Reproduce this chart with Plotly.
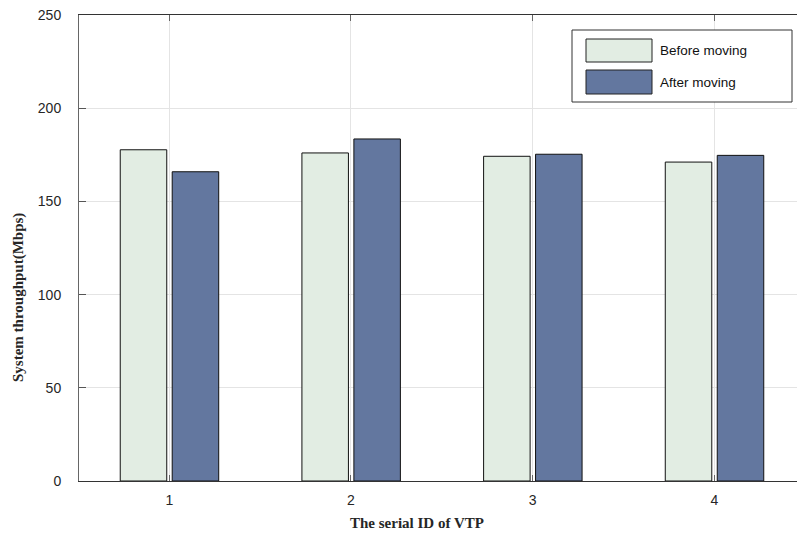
import plotly.graph_objects as go

categories = [1, 2, 3, 4]
series_names = ["Before moving", "After moving"]
before_moving = [177.7, 176.0, 174.2, 171.1]
after_moving = [165.9, 183.5, 175.3, 174.7]
y_ticks = [0, 50, 100, 150, 200, 250]

colors = ["#E2EDE3", "#63779F"]
W, H = 797, 536
ML, MR, MT, MB = 79, 0, 15, 55
PW, PH = W - ML - MR, H - MT - MB


def px_x(px):
    return (px - ML) / PW


def px_y(py):
    return (H - MB - py) / PH


fig = go.Figure()
offsets = [-0.27, 0.016]
for name, vals, col, off in zip(series_names, [before_moving, after_moving], colors, offsets):
    fig.add_trace(go.Bar(
        x=categories, y=vals, name=name,
        marker=dict(color=col, line=dict(color="#111111", width=1)),
        width=0.256, offset=off, showlegend=False,
    ))

axis_font = dict(family="Liberation Sans, Arial, sans-serif", size=14, color="#262626")
fig.update_layout(
    width=W, height=H,
    margin=dict(l=ML, r=MR, t=MT, b=MB),
    paper_bgcolor="white", plot_bgcolor="white",
    barmode="overlay",
    xaxis=dict(
        range=[0.503, 4.455], tickvals=categories, ticktext=[str(c) for c in categories],
        showgrid=True, gridcolor="#E4E4E4", gridwidth=1,
        ticks="inside", ticklen=6, tickcolor="#666666",
        showline=True, linecolor="#333333", linewidth=1, mirror="ticks",
        tickfont=axis_font, ticklabelstandoff=6, zeroline=False,
    ),
    yaxis=dict(
        range=[0, 250], tickvals=y_ticks,
        showgrid=True, gridcolor="#E4E4E4", gridwidth=1,
        ticks="inside", ticklen=7, tickcolor="#555555",
        showline=True, linecolor="#666666", linewidth=1, mirror=False,
        tickfont=axis_font, ticklabelstandoff=14, zeroline=False,
    ),
)

title_font = dict(family="Liberation Serif, Times New Roman, serif", size=15, color="#262626")
fig.add_annotation(text="<b>The serial ID of VTP</b>", xref="paper", yref="paper",
                   x=px_x(417), y=px_y(523), xanchor="center", yanchor="middle",
                   showarrow=False, font=title_font)
fig.add_annotation(text="<b>System throughput(Mbps)</b>", xref="paper", yref="paper",
                   x=px_x(18), y=px_y(298), xanchor="center", yanchor="middle",
                   textangle=-90, showarrow=False, font=title_font)

# custom legend (large patches like the original)
fig.add_shape(type="rect", xref="paper", yref="paper",
              x0=px_x(572), x1=px_x(792), y0=px_y(102), y1=px_y(30),
              fillcolor="white", line=dict(color="#333333", width=1), layer="above")
rows = [(39, 62), (70, 94)]
for name, col, (t, b) in zip(series_names, colors, rows):
    fig.add_shape(type="rect", xref="paper", yref="paper",
                  x0=px_x(586), x1=px_x(652), y0=px_y(b), y1=px_y(t),
                  fillcolor=col, line=dict(color="#222222", width=1), layer="above")
    fig.add_annotation(text=name, xref="paper", yref="paper",
                       x=px_x(658), y=px_y((t + b) / 2), xanchor="left", yanchor="middle",
                       showarrow=False,
                       font=dict(family="Liberation Sans, Arial, sans-serif", size=13.5, color="#111111"))

fig.write_html("out.html")
